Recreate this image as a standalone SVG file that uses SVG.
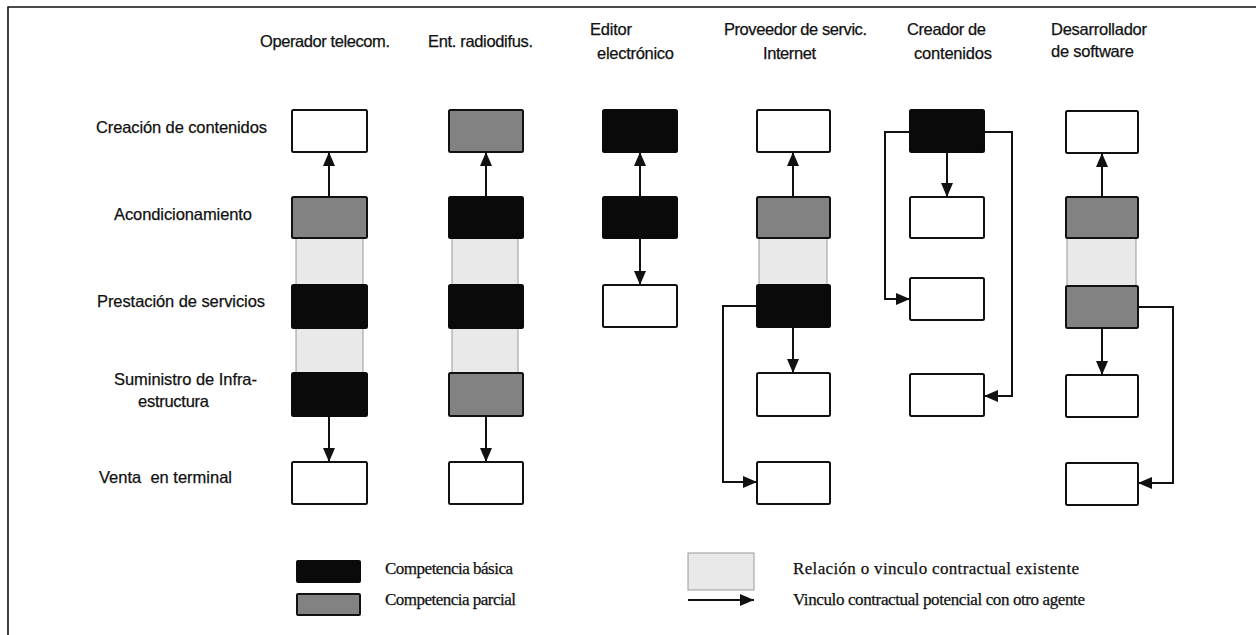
<svg xmlns="http://www.w3.org/2000/svg" width="1256" height="635" viewBox="0 0 1256 635">
<style>
.sans{font-family:"Liberation Sans",Arial,sans-serif;font-size:16.5px;fill:#111;stroke:#111;stroke-width:0.25}
.serif{font-family:"Liberation Serif","Times New Roman",serif;font-size:17px;fill:#111;stroke:#111;stroke-width:0.25}
.w{fill:#fff;stroke:#111;stroke-width:2}
.b{fill:#0a0a0a;stroke:#0a0a0a;stroke-width:2}
.p{fill:#828282;stroke:#111;stroke-width:2}
.l{fill:#e9e9e9;stroke:#999;stroke-width:1}
.c{fill:none;stroke:#111;stroke-width:2}
</style>
<defs>
<marker id="ah" viewBox="0 0 14 12" markerWidth="14" markerHeight="12" refX="14" refY="6" orient="auto" markerUnits="userSpaceOnUse">
<path d="M0,0 L14,6 L0,12 z" fill="#111"/>
</marker>
</defs>
<rect width="1256" height="635" fill="#fff"/>
<g id="frame"><path d="M8,635 L8,7 L1256,7" fill="none" stroke="#111" stroke-width="1.6"/></g>

<g id="row-labels">
<text class="sans" x="96" y="133" textLength="171">Creación de contenidos</text>
<text class="sans" x="114" y="220" textLength="138">Acondicionamiento</text>
<text class="sans" x="97" y="307" textLength="168">Prestación de servicios</text>
<text class="sans" x="114" y="385" textLength="143">Suministro de Infra-</text>
<text class="sans" x="138" y="407" textLength="71">estructura</text>
<text class="sans" x="99" y="483" textLength="133" xml:space="preserve">Venta  en terminal</text>
</g>

<g id="col-telecom">
<text class="sans" x="260" y="47" textLength="130">Operador telecom.</text>
<rect class="w" x="292" y="110" width="75" height="42" rx="1.5"/>
<rect class="l" x="296" y="238" width="67" height="47"/>
<rect class="l" x="296" y="328" width="67" height="45"/>
<rect class="p" x="292" y="197" width="75" height="41" rx="1.5"/>
<rect class="b" x="292" y="285" width="75" height="43" rx="1.5"/>
<rect class="b" x="292" y="373" width="75" height="43" rx="1.5"/>
<rect class="w" x="292" y="462" width="75" height="42" rx="1.5"/>
</g>

<g id="col-radiodifus">
<text class="sans" x="428" y="47" textLength="105">Ent. radiodifus.</text>
<rect class="p" x="449" y="110" width="74" height="42" rx="1.5"/>
<rect class="l" x="452" y="238" width="66" height="47"/>
<rect class="l" x="452" y="328" width="66" height="45"/>
<rect class="b" x="449" y="197" width="74" height="41" rx="1.5"/>
<rect class="b" x="449" y="285" width="74" height="43" rx="1.5"/>
<rect class="p" x="449" y="373" width="74" height="43" rx="1.5"/>
<rect class="w" x="449" y="462" width="74" height="42" rx="1.5"/>
</g>

<g id="col-editor">
<text class="sans" x="590" y="35" textLength="42">Editor</text>
<text class="sans" x="597" y="59" textLength="77">electrónico</text>
<rect class="b" x="603" y="110" width="74" height="42" rx="1.5"/>
<rect class="b" x="603" y="197" width="74" height="41" rx="1.5"/>
<rect class="w" x="603" y="285" width="74" height="42" rx="1.5"/>
</g>

<g id="col-proveedor">
<text class="sans" x="724" y="35" textLength="143">Proveedor de servic.</text>
<text class="sans" x="763" y="59" textLength="53">Internet</text>
<rect class="w" x="757" y="110" width="73" height="42" rx="1.5"/>
<rect class="l" x="759" y="238" width="68" height="47"/>
<rect class="p" x="757" y="197" width="73" height="41" rx="1.5"/>
<rect class="b" x="757" y="285" width="73" height="42" rx="1.5"/>
<rect class="w" x="757" y="373" width="73" height="43" rx="1.5"/>
<rect class="w" x="757" y="462" width="73" height="42" rx="1.5"/>
</g>

<g id="col-creador">
<text class="sans" x="907" y="35" textLength="79">Creador de</text>
<text class="sans" x="914" y="59" textLength="78">contenidos</text>
<rect class="b" x="910" y="110" width="74" height="42" rx="1.5"/>
<rect class="w" x="910" y="197" width="74" height="41" rx="1.5"/>
<rect class="w" x="910" y="278" width="74" height="42" rx="1.5"/>
<rect class="w" x="910" y="374" width="74" height="42" rx="1.5"/>
</g>

<g id="col-software">
<text class="sans" x="1051" y="35" textLength="96">Desarrollador</text>
<text class="sans" x="1051" y="57" textLength="83">de software</text>
<rect class="w" x="1066" y="111" width="72" height="42" rx="1.5"/>
<rect class="l" x="1067" y="238" width="69" height="48"/>
<rect class="p" x="1066" y="197" width="72" height="41" rx="1.5"/>
<rect class="p" x="1066" y="286" width="72" height="42" rx="1.5"/>
<rect class="w" x="1066" y="375" width="72" height="42" rx="1.5"/>
<rect class="w" x="1066" y="463" width="72" height="42" rx="1.5"/>
</g>

<g id="connectors">
<path class="c" d="M329,197 L329,152" marker-end="url(#ah)"/>
<path class="c" d="M329,417 L329,462" marker-end="url(#ah)"/>
<path class="c" d="M486,197 L486,152" marker-end="url(#ah)"/>
<path class="c" d="M486,417 L486,462" marker-end="url(#ah)"/>
<path class="c" d="M640,197 L640,152" marker-end="url(#ah)"/>
<path class="c" d="M640,238 L640,285" marker-end="url(#ah)"/>
<path class="c" d="M793,197 L793,152" marker-end="url(#ah)"/>
<path class="c" d="M793,327 L793,373" marker-end="url(#ah)"/>
<path class="c" d="M757,306 L723,306 L723,482 L757,482" marker-end="url(#ah)"/>
<path class="c" d="M947,152 L947,197" marker-end="url(#ah)"/>
<path class="c" d="M910,132 L885,132 L885,299 L910,299" marker-end="url(#ah)"/>
<path class="c" d="M984,132 L1012,132 L1012,396 L984,396" marker-end="url(#ah)"/>
<path class="c" d="M1102,197 L1102,153" marker-end="url(#ah)"/>
<path class="c" d="M1102,328 L1102,375" marker-end="url(#ah)"/>
<path class="c" d="M1138,307 L1173,307 L1173,483 L1138,483" marker-end="url(#ah)"/>
</g>

<g id="legend">
<rect class="b" x="297" y="561" width="63" height="21" rx="1"/>
<text class="serif" x="385" y="574" textLength="128">Competencia básica</text>
<rect class="p" x="297" y="594" width="63" height="21" rx="1"/>
<text class="serif" x="385" y="605" textLength="131">Competencia parcial</text>
<rect class="l" x="688" y="553" width="66" height="37" stroke="#333" stroke-width="1.5"/>
<text class="serif" x="793" y="574" textLength="286">Relación o vinculo contractual existente</text>
<path class="c" d="M688,600 L754,600" marker-end="url(#ah)"/>
<text class="serif" x="793" y="605" textLength="292">Vinculo contractual potencial con otro agente</text>
</g>
</svg>
